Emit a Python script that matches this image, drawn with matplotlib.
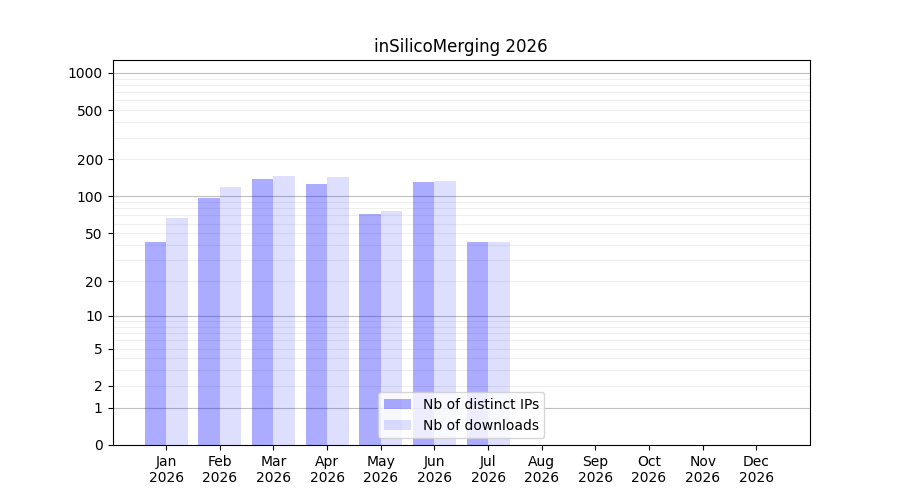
import numpy as np
import matplotlib
matplotlib.use("Agg")
import matplotlib.pyplot as plt

months = ["Jan", "Feb", "Mar", "Apr", "May", "Jun", "Jul", "Aug", "Sep", "Oct", "Nov", "Dec"]
year = "2026"
ips = [42, 97, 139, 126, 72, 131, 42, 0, 0, 0, 0, 0]
downloads = [67, 119, 147, 144, 76, 134, 42, 0, 0, 0, 0, 0]
ytick_vals = [0, 1, 2, 5, 10, 20, 50, 100, 200, 500, 1000]

fig, ax = plt.subplots(figsize=(9, 5), dpi=100)

fwd = lambda v: np.log10(1 + np.clip(v, 0, None))
inv = lambda t: 10 ** t - 1
ax.set_yscale('function', functions=(fwd, inv))

x = np.arange(len(months))
ax.bar(x - 0.2, ips, width=0.4, color='blue', alpha=0.33, label='Nb of distinct IPs')
ax.bar(x + 0.2, downloads, width=0.4, color='blue', alpha=0.13, label='Nb of downloads')

for dec in [1, 10, 100, 1000]:
    ax.axhline(dec, color='gray', alpha=0.5, lw=0.8, zorder=0.5)
    if dec < 1000:
        for m in range(2, 10):
            ax.axhline(dec * m, color='gray', alpha=0.12, lw=0.8, zorder=0.5)

ax.set_xticks(x)
ax.set_xticklabels([f"{m}\n{year}" for m in months])
ax.set_yticks(ytick_vals)
ax.set_yticklabels([str(v) for v in ytick_vals])
ax.yaxis.set_minor_locator(matplotlib.ticker.NullLocator())
ax.set_xlim(-1, 12)
ax.set_ylim(0, 1273)
ax.set_title("inSilicoMerging 2026")
ax.legend(loc='lower center')

fig.savefig("out.png")
